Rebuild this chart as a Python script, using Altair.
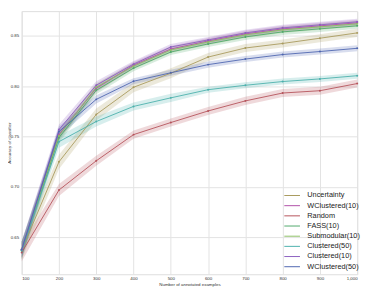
import altair as alt
import pandas as pd

sizes = [100, 200, 300, 400, 500, 600, 700, 800, 900, 1000]
names = ["Uncertainty", "WClustered(10)", "Random", "FASS(10)", "Submodular(10)",
         "Clustered(50)", "Clustered(10)", "WClustered(50)"]
colors = ["#a89a5c", "#b04fa8", "#b5525a", "#4fa86a", "#8cc063",
          "#4bb0ac", "#8b5fbf", "#4f66b0"]

uncertainty = [0.637, 0.725, 0.772, 0.799, 0.813, 0.829, 0.838, 0.8425, 0.8477, 0.853]
wclustered10 = [0.638, 0.752, 0.798, 0.821, 0.837, 0.845, 0.852, 0.857, 0.860, 0.863]
random_ = [0.635, 0.697, 0.726, 0.752, 0.764, 0.7755, 0.7855, 0.7933, 0.7956, 0.8027]
fass10 = [0.637, 0.749, 0.796, 0.818, 0.834, 0.842, 0.849, 0.854, 0.857, 0.860]
submodular10 = [0.638, 0.751, 0.799, 0.820, 0.836, 0.844, 0.851, 0.856, 0.859, 0.862]
clustered50 = [0.637, 0.745, 0.765, 0.780, 0.7885, 0.7966, 0.801, 0.8047, 0.8073, 0.8105]
clustered10 = [0.638, 0.757, 0.801, 0.822, 0.839, 0.846, 0.853, 0.858, 0.861, 0.864]
wclustered50 = [0.638, 0.755, 0.787, 0.805, 0.8134, 0.8215, 0.827, 0.8315, 0.8345, 0.8377]

uncertainty_err = [0.009, 0.007, 0.006, 0.005, 0.005, 0.004, 0.004, 0.004, 0.004, 0.004]
wclustered10_err = [0.008, 0.005, 0.004, 0.003, 0.003, 0.003, 0.003, 0.003, 0.003, 0.003]
random_err = [0.009, 0.006, 0.005, 0.004, 0.004, 0.004, 0.004, 0.004, 0.004, 0.004]
fass10_err = [0.008, 0.005, 0.004, 0.003, 0.003, 0.003, 0.003, 0.003, 0.003, 0.003]
submodular10_err = [0.008, 0.005, 0.004, 0.003, 0.003, 0.003, 0.003, 0.003, 0.003, 0.003]
clustered50_err = [0.009, 0.006, 0.005, 0.004, 0.004, 0.003, 0.003, 0.003, 0.003, 0.003]
clustered10_err = [0.008, 0.005, 0.004, 0.003, 0.003, 0.003, 0.003, 0.003, 0.003, 0.003]
wclustered50_err = [0.008, 0.005, 0.004, 0.003, 0.003, 0.003, 0.003, 0.003, 0.003, 0.003]

series = [uncertainty, wclustered10, random_, fass10, submodular10,
          clustered50, clustered10, wclustered50]
errors = [uncertainty_err, wclustered10_err, random_err, fass10_err, submodular10_err,
          clustered50_err, clustered10_err, wclustered50_err]

rows = []
for name, vals, errs in zip(names, series, errors):
    for n, v, e in zip(sizes, vals, errs):
        rows.append({"method": name, "n": n, "acc": v, "lo": v - e, "hi": v + e})
df = pd.DataFrame(rows)

font = "Liberation Sans"
yscale = alt.Scale(domain=[0.6134, 0.8746], nice=False, zero=False)
cscale = alt.Scale(domain=names, range=colors)
x = alt.X("n:Q", scale=alt.Scale(domain=[100, 1000], nice=False),
          axis=alt.Axis(values=sizes, title="Number of annotated examples",
                        labelPadding=1.5, titlePadding=1.5))
y = alt.Y("acc:Q", scale=yscale,
          axis=alt.Axis(values=[0.65, 0.70, 0.75, 0.80, 0.85], format=".2f",
                        title="Accuracy of classifier", labelPadding=3, titleX=-10))
legend = alt.Legend(title=None, orient="none", legendX=272, legendY=184,
                    symbolType="M-2,0H2", symbolSize=64, symbolOpacity=1,
                    symbolStrokeWidth=1, labelFontSize=7.5,
                    labelFont=font, labelColor="#222222",
                    labelOffset=11, rowPadding=2.4)
color = alt.Color("method:N", scale=cscale, legend=legend)

base = alt.Chart(df)
band = base.mark_area(opacity=0.22).encode(
    x=x, y=alt.Y("lo:Q", scale=yscale), y2="hi:Q", color=color)
line = base.mark_line(strokeWidth=0.9).encode(x=x, y=y, color=color)
pts = base.mark_point(filled=True, size=4, opacity=1).encode(x=x, y=y, color=color)

chart = (band + line + pts).properties(
    width=343, height=269,
    autosize=alt.AutoSizeParams(type="none"),
    padding={"left": 14, "top": 0, "right": 9, "bottom": 17},
).configure_axis(
    grid=True, gridColor="#e2e2e2", gridWidth=1, domain=False, ticks=False,
    labelFontSize=4.5, titleFontSize=4.5, labelFont=font, titleFont=font,
    labelColor="#333333", titleColor="#333333", titleFontWeight="normal",
).configure_view(stroke="#dddddd")

chart.save("out.html", embed_options={"renderer": "svg", "actions": False})
